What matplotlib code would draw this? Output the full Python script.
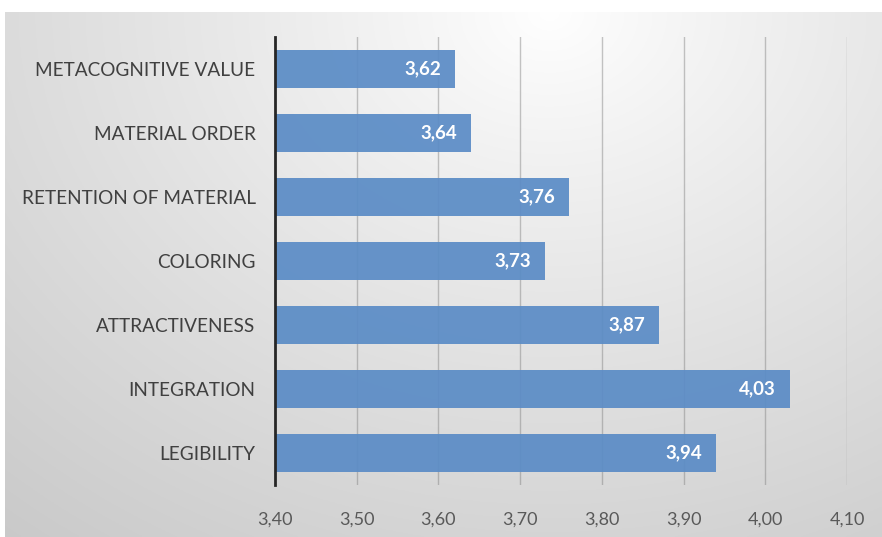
import numpy as np
import matplotlib
matplotlib.use("Agg")
import matplotlib.pyplot as plt

categories = ["LEGIBILITY", "INTEGRATION", "ATTRACTIVENESS", "COLORING",
              "RETENTION OF MATERIAL", "MATERIAL ORDER", "METACOGNITIVE VALUE"]
values = [3.94, 4.03, 3.87, 3.73, 3.76, 3.64, 3.62]
xticks = [3.40, 3.50, 3.60, 3.70, 3.80, 3.90, 4.00, 4.10]

plt.rcParams['font.family'] = ['Lato', 'DejaVu Sans']

W, H = 882, 537
fig = plt.figure(figsize=(W / 100, H / 100), dpi=100)
fig.patch.set_facecolor('white')

# background gradient panel
bg = fig.add_axes([5 / W, 0, 1 - 5 / W, (H - 12) / H])
ny, nx = 300, 500
yy, xx = np.mgrid[0:ny, 0:nx]
cx, cy = 0.62 * nx, 0.0
d = np.sqrt(((xx - cx) / nx) ** 2 + ((yy - cy) / ny * 0.75) ** 2)
d = d / d.max()
g = 1.0 - 0.21 * np.clip(d, 0, 1) ** 0.9
img = np.dstack([g, g, g])
bg.imshow(img, aspect='auto', extent=[0, 1, 0, 1], origin='upper')
bg.set_axis_off()

ax = fig.add_axes([275 / W, 1 - 485 / H, (847 - 275) / W, (485 - 37) / H])
ax.set_facecolor('none')
y = np.arange(len(categories))
ax.set_xlim(3.40, 4.10)
ax.set_ylim(-0.5, len(categories) - 0.5)
ax.set_xticks(xticks)
ax.set_xticklabels([f"{t:.2f}".replace('.', ',') for t in xticks])
for t in xticks[1:]:
    ax.axvline(t, color='#7f7f7f', lw=1.0, alpha=0.45, zorder=1)
bars = ax.barh(y, [v - 3.40 for v in values], left=3.40, height=0.58,
               color='#5b8cc6', alpha=0.93, zorder=2)
for yi, v in zip(y, values):
    ax.text(v - 0.017, yi, f"{v:.2f}".replace('.', ','), ha='right', va='center',
            color='white', fontsize=13.5, fontweight='bold', zorder=3)
ax.set_yticks(y)
ax.set_yticklabels(categories, fontsize=13.7, color='#404040')
ax.tick_params(axis='y', length=0, pad=14)
ax.tick_params(axis='x', length=0, pad=19, labelsize=13, labelcolor='#595959')
for s in ['top', 'right', 'bottom']:
    ax.spines[s].set_visible(False)
ax.spines['left'].set_color('#262626')
ax.spines['left'].set_linewidth(2)
ax.spines['left'].set_zorder(4)

fig.savefig('out.png', dpi=100)
